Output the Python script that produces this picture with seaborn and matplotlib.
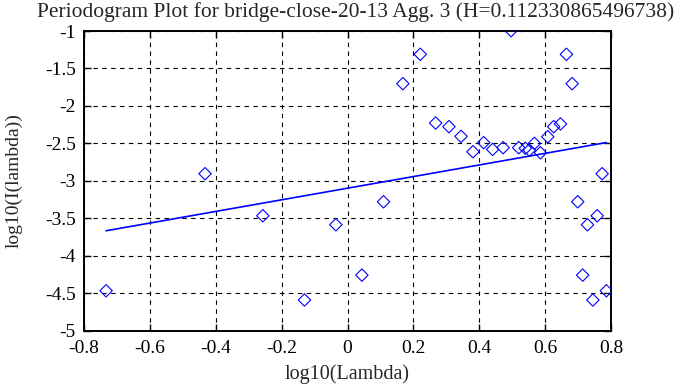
import numpy as np
import pandas as pd
import matplotlib
matplotlib.use("Agg")
import matplotlib.pyplot as plt
import seaborn as sns

# Data
log_lambda = [-0.733, -0.4325, -0.257, -0.1307, -0.0353, 0.0437, 0.1094, 0.168,
              0.221, 0.2676, 0.308, 0.3447, 0.381, 0.4134, 0.4407, 0.4723,
              0.4967, 0.5198, 0.54, 0.552, 0.5675, 0.5857, 0.608, 0.626,
              0.6465, 0.6647, 0.682, 0.699, 0.714, 0.7286, 0.745, 0.758,
              0.773, 0.786]
log_I = [-4.467, -2.905, -3.466, -4.59, -3.586, -4.258, -3.279, -1.703,
         -1.311, -2.228, -2.277, -2.406, -2.611, -2.49, -2.58, -2.557,
         -0.996, -2.557, -2.565, -2.59, -2.5, -2.625, -2.411, -2.277,
         -2.24, -1.311, -1.703, -3.279, -4.258, -3.586, -4.59, -3.466,
         -2.905, -4.467]
fit_intercept = -3.098
fit_slope = 0.7753
H_value = "0.112330865496738"
x_ticks = [-0.8, -0.6, -0.4, -0.2, 0, 0.2, 0.4, 0.6, 0.8]
y_ticks = [-5, -4.5, -4, -3.5, -3, -2.5, -2, -1.5, -1]

df = pd.DataFrame({"x": log_lambda, "y": log_I})
xf = np.array([min(log_lambda), max(log_lambda)])
fit_df = pd.DataFrame({"x": xf, "y": fit_intercept + fit_slope * xf})

sns.set_theme(style="white")
plt.rcParams["font.family"] = ["Liberation Serif", "DejaVu Serif"]

fig = plt.figure(figsize=(6.95, 3.87), dpi=100)
ax = fig.add_axes([84 / 695, 1 - 330.7 / 387, (611 - 84) / 695, (330.7 - 31) / 387])

sns.lineplot(data=fit_df, x="x", y="y", ax=ax, color="#0000ff", linewidth=1.2, zorder=3)
sns.scatterplot(data=df, x="x", y="y", ax=ax, marker="D", s=40,
                facecolors="none", edgecolor="#0000ff", linewidth=0.8, zorder=4)

ax.set_xlim(-0.8, 0.8)
ax.set_ylim(-5, -1)
ax.set_xticks(x_ticks)
ax.set_yticks(y_ticks)
ax.set_xticklabels([f"{v:g}" for v in x_ticks])
ax.set_yticklabels([f"{v:g}" for v in y_ticks])
ax.grid(True, color="black", linestyle=(0, (4, 4)), linewidth=0.8)
ax.set_axisbelow(True)
for sp in ax.spines.values():
    sp.set_color("black")
    sp.set_linewidth(1.4)
ax.tick_params(direction="in", length=5, width=1, colors="black",
               top=True, right=True, bottom=True, left=True, labelsize=14)
ax.tick_params(axis="x", pad=7)
ax.tick_params(axis="y", pad=6)
ax.set_xlabel("log10(Lambda)", fontsize=14.5, labelpad=5)
ax.set_ylabel("log10(I(lambda))", fontsize=14, labelpad=16)
ax.set_title(f"Periodogram Plot for bridge-close-20-13 Agg. 3 (H={H_value})",
             fontsize=15.5, pad=10, x=0.515)

fig.savefig("out.png", dpi=100)
